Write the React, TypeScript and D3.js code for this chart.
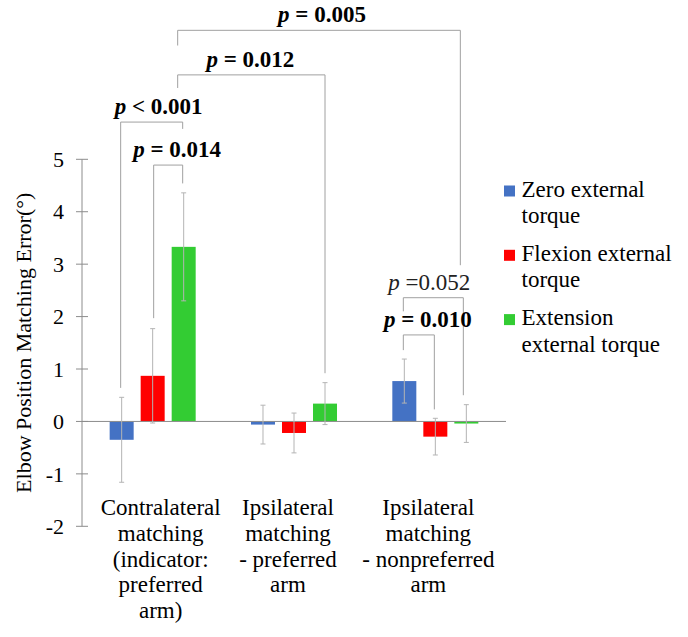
import React from "react";
import * as d3 from "d3";

const categories = [
  "Contralateral matching (indicator: preferred arm)",
  "Ipsilateral matching - preferred arm",
  "Ipsilateral matching - nonpreferred arm",
];
const categoryLines = [
  ["Contralateral", "matching", "(indicator:", "preferred", "arm)"],
  ["Ipsilateral", "matching", "- preferred", "arm"],
  ["Ipsilateral", "matching", "- nonpreferred", "arm"],
];
const series = ["Zero external torque", "Flexion external torque", "Extension external torque"];
const legendLines = [
  ["Zero external", "torque"],
  ["Flexion external", "torque"],
  ["Extension", "external torque"],
];
const colors = ["#4472C4", "#FF0000", "#33CC33"];

// means per series, one value per category
const zeroMeans = [-0.35, -0.06, 0.77];
const flexionMeans = [0.87, -0.22, -0.29];
const extensionMeans = [3.33, 0.34, -0.04];
const zeroErr = [0.81, 0.37, 0.42];
const flexionErr = [0.9, 0.38, 0.35];
const extensionErr = [1.03, 0.4, 0.36];

const yTicks = [-2, -1, 0, 1, 2, 3, 4, 5];

// significance brackets: [category, series] ends, heights in data units
const brackets = [
  { a: [0, 0], b: [0, 2], top: 5.71, endA: 0.64, endB: 5.58, p: "< 0.001", bold: true },
  { a: [0, 1], b: [0, 2], top: 4.89, endA: 1.97, endB: 4.54, p: "= 0.014", bold: true },
  { a: [0, 2], b: [1, 2], top: 6.61, endA: 6.36, endB: 0.92, p: "= 0.012", bold: true },
  { a: [0, 2], b: [2, 2], top: 7.46, endA: 7.17, endB: 2.98, p: "= 0.005", bold: true },
  { a: [2, 0], b: [2, 2], top: 2.36, endA: 2.1, endB: 0.5, p: "=0.052", bold: false },
  { a: [2, 0], b: [2, 1], top: 1.65, endA: 1.36, endB: 0.23, p: "= 0.010", bold: true },
];

const W = 688;
const H = 637;
const font = '"Liberation Serif", "DejaVu Serif", serif';

export default function App() {
  const means = [zeroMeans, flexionMeans, extensionMeans];
  const errs = [zeroErr, flexionErr, extensionErr];

  const y = d3.scaleLinear().domain([-2, 5]).range([526.3, 159.3]);
  const x0 = d3.scaleBand().domain(categories).range([82, 506]).padding(0);
  const x1 = d3
    .scaleBand()
    .domain(series)
    .range([0, x0.bandwidth()])
    .paddingInner(0.226)
    .paddingOuter(0.892);

  const barCenter = (c: number, s: number) =>
    (x0(categories[c]) as number) + (x1(series[s]) as number) + x1.bandwidth() / 2;

  // small hand nudges to follow the original layout
  const endNudge = [
    [-1, -1],
    [1, -1],
    [-6, 0],
    [-6, -6],
    [-1, -3],
    [-1, -1],
  ];
  const labelNudge = [7, 9, -1, 3, -4, 9];
  const catNudge = [8, -6, -7];

  const gridColor = "#8c8c8c";
  const bracketColor = "#a0a0a0";
  const errColor = "#b4b4b4";
  const txt = { fontFamily: font, fontSize: 22 };
  const big = { fontFamily: font, fontSize: 23 };

  return (
    <svg
      width={W}
      height={H}
      style={{ position: "absolute", left: 0, top: 0, background: "#fff", fontFamily: font }}
    >
      {/* y axis */}
      <line x1={82} x2={82} y1={y(5)} y2={y(-2)} stroke={gridColor} strokeWidth={1} />
      {yTicks.map((t) => (
        <g key={t}>
          <line x1={76} x2={88} y1={y(t)} y2={y(t)} stroke={gridColor} strokeWidth={1} />
          <text x={64} y={y(t)} dy="0.35em" textAnchor="end" style={txt} fill="#000">
            {t}
          </text>
        </g>
      ))}
      <text
        transform={`translate(31, ${(y(5) + y(-2)) / 2}) rotate(-90)`}
        textAnchor="middle"
        style={txt}
        fill="#000"
      >
        Elbow Position Matching Error(°)
      </text>

      {/* bars */}
      {series.map((s, si) =>
        categories.map((c, ci) => {
          const v = means[si][ci];
          const bx = (x0(c) as number) + (x1(s) as number);
          return (
            <rect
              key={s + c}
              x={bx}
              y={Math.min(y(v), y(0))}
              width={x1.bandwidth()}
              height={Math.abs(y(v) - y(0))}
              fill={colors[si]}
            />
          );
        })
      )}

      {/* zero line */}
      <line x1={82} x2={506} y1={y(0)} y2={y(0)} stroke={gridColor} strokeWidth={1} />

      {/* error bars */}
      {series.map((s, si) =>
        categories.map((c, ci) => {
          const cx = barCenter(ci, si);
          const hi = y(means[si][ci] + errs[si][ci]);
          const lo = y(means[si][ci] - errs[si][ci]);
          return (
            <g key={"e" + s + c} stroke={errColor} strokeWidth={1}>
              <line x1={cx} x2={cx} y1={hi} y2={lo} />
              <line x1={cx - 2.5} x2={cx + 2.5} y1={hi} y2={hi} />
              <line x1={cx - 2.5} x2={cx + 2.5} y1={lo} y2={lo} />
            </g>
          );
        })
      )}

      {/* brackets */}
      {brackets.map((b, i) => {
        const xa = barCenter(b.a[0], b.a[1]) + endNudge[i][0];
        const xb = barCenter(b.b[0], b.b[1]) + endNudge[i][1];
        const yt = y(b.top);
        return (
          <g key={"b" + i}>
            <path
              d={`M${xa},${y(b.endA)}V${yt}H${xb}V${y(b.endB)}`}
              fill="none"
              stroke={bracketColor}
              strokeWidth={1}
            />
            <text
              x={(xa + xb) / 2 + labelNudge[i]}
              y={yt - 8}
              textAnchor="middle"
              style={{ ...big, fontWeight: b.bold ? "bold" : "normal" }}
              fill={b.bold ? "#000" : "#222"}
            >
              <tspan fontStyle="italic">p</tspan>
              <tspan> {b.p}</tspan>
            </text>
          </g>
        );
      })}

      {/* category labels */}
      {categories.map((c, ci) => {
        const cx = (x0(c) as number) + x0.bandwidth() / 2 + catNudge[ci];
        return (
          <text key={"c" + c} x={cx} y={515} textAnchor="middle" style={big} fill="#000">
            {categoryLines[ci].map((l, li) => (
              <tspan key={li} x={cx} dy={li === 0 ? 0 : 25.8}>
                {l}
              </tspan>
            ))}
          </text>
        );
      })}

      {/* legend */}
      {series.map((s, si) => {
        const base = 196.5 + si * 64.3;
        return (
          <g key={"l" + s}>
            <rect x={504} y={base - 11} width={11} height={11} fill={colors[si]} />
            <text x={521.5} y={base} style={big} fill="#000">
              {legendLines[si].map((l, li) => (
                <tspan key={li} x={521.5} dy={li === 0 ? 0 : 26.5}>
                  {l}
                </tspan>
              ))}
            </text>
          </g>
        );
      })}
    </svg>
  );
}
